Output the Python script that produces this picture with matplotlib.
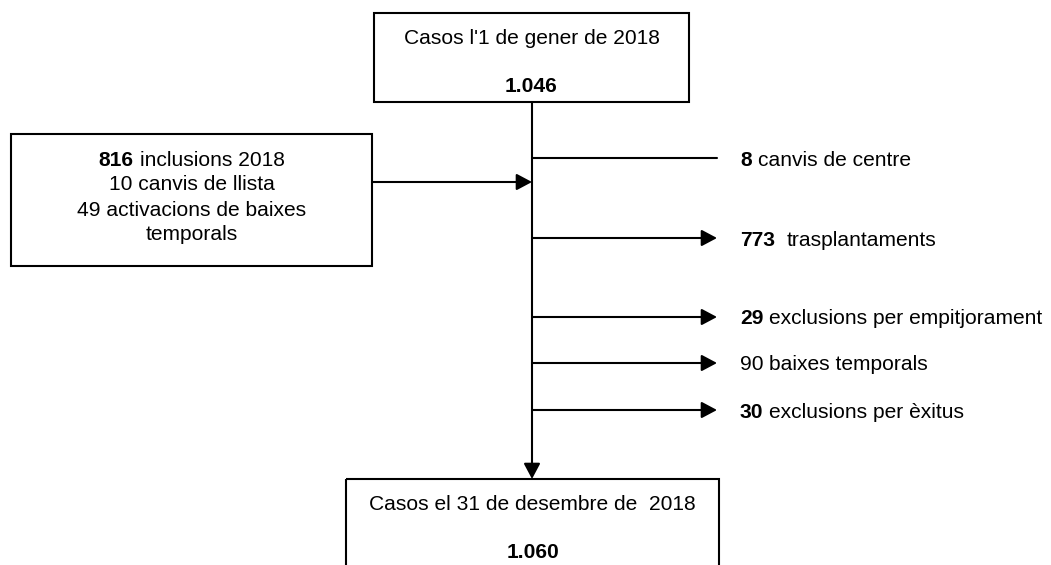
import matplotlib
matplotlib.use("Agg")
import matplotlib.pyplot as plt
from matplotlib.patches import Rectangle

plt.rcParams['font.family'] = ['Liberation Sans', 'DejaVu Sans']

# data
start_label = "Casos l'1 de gener de 2018"
start_value = "1.046"
end_label = "Casos el 31 de desembre de  2018"
end_value = "1.060"

# inflow box: (bold part, regular part) per line
inflow_lines = [("816", " inclusions 2018"),
                ("", "10 canvis de llista"),
                ("", "49 activacions de baixes"),
                ("", "temporals")]

out_counts = ["8", "773", "29", "90", "30"]
out_texts = [" canvis de centre", "  trasplantaments", " exclusions per empitjorament",
             " baixes temporals", " exclusions per èxitus"]
out_bold = [True, True, True, False, True]
out_arrow = [False, True, True, True, True]

# layout (pixels)
W, H = 1051, 565
out_y = [158, 238, 317, 363, 410]
spine_x = 532
FS = 15.1
LW = 1.5
BASE = 7.5  # from visual centre of capitals to baseline

fig = plt.figure(figsize=(W / 100, H / 100), dpi=100)
ax = fig.add_axes([0, 0, 1, 1])
ax.set_xlim(0, W)
ax.set_ylim(H, 0)
ax.axis('off')
fig.canvas.draw()
renderer = fig.canvas.get_renderer()


def label(x, y, s, weight='normal', ha='center'):
    return ax.text(x, y + BASE, s, fontsize=FS, fontweight=weight, ha=ha, va='baseline')


def width(s, weight):
    t = ax.text(0, 0, s, fontsize=FS, fontweight=weight)
    w = t.get_window_extent(renderer).width
    t.remove()
    return w


def advance(s, weight):
    # pen advance of s, spaces included
    return width("H" + s + "H", weight) - width("HH", weight)


def rich_line(x, y, pieces, ha='left'):
    # pieces: list of (string, weight); laid out one after the other
    pieces = [(s, wt) for s, wt in pieces if s != ""]
    offs = []
    cur = 0
    for s, wt in pieces:
        offs.append(cur)
        cur += advance(s, wt)
    start = x - cur / 2 if ha == 'center' else x
    for (s, wt), o in zip(pieces, offs):
        n = len(s) - len(s.lstrip(' '))
        label(start + o + advance(' ' * n, wt) if n else start + o, y, s.lstrip(' '), wt, 'left')


def box(x0, y0, x1, y1):
    ax.add_patch(Rectangle((x0, y0), x1 - x0, y1 - y0, fill=False,
                           edgecolor='black', lw=LW, clip_on=False))


def arrow(x0, y0, x1, y1, head=True):
    style = '-|>,head_length=0.47,head_width=0.25' if head else '-'
    ax.annotate('', xy=(x1, y1), xytext=(x0, y0),
                arrowprops=dict(arrowstyle=style, lw=LW, color='black',
                                mutation_scale=20, shrinkA=0, shrinkB=0))


# top box
box(374, 13, 689, 102)
label(531.5, 37, start_label)
label(531.5, 85, start_value, 'bold')

# bottom box (runs off the bottom edge)
box(346, 479, 719, 600)
label(532.5, 502, end_label)
label(532.5, 550, end_value, 'bold')

# spine
arrow(spine_x, 102, spine_x, 479)

# inflow box
box(11, 134, 372, 266)
line_y = [158, 183, 208, 233]
for (b, r), y in zip(inflow_lines, line_y):
    rich_line(191.5, y, [(b, 'bold'), (r, 'normal')], ha='center')
arrow(372, 182, spine_x, 182)

# outflows
for cnt, txt, bold, head, y in zip(out_counts, out_texts, out_bold, out_arrow, out_y):
    arrow(spine_x, y, 717, y, head=head)
    rich_line(740, y, [(cnt, 'bold' if bold else 'normal'), (txt, 'normal')])

fig.savefig('out.png', dpi=100)
